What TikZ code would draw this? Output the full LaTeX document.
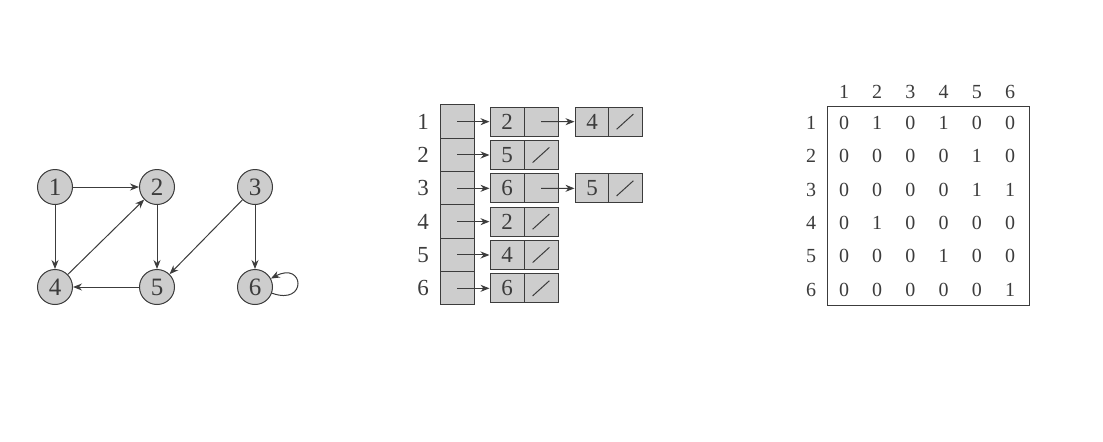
\documentclass[tikz,border=0pt]{standalone}
\usepackage{fontspec}
\setmainfont{Liberation Serif}
\usetikzlibrary{arrows.meta}
\definecolor{GraphNodeFill}{RGB}{205,205,205}
\definecolor{GraphLine}{RGB}{60,60,60}

\begin{document}
\begin{tikzpicture}[x=0.5pt,y=-0.5pt,line width=0.5pt,
  vtx/.style={circle,draw=GraphLine,fill=GraphNodeFill,minimum size=17.5pt,inner sep=0pt,text=GraphLine,font=\fontsize{12.5}{14}\selectfont},
  arr/.style={draw=GraphLine,-{Stealth[length=4.5pt,width=3.5pt]}},
  slot/.style={rectangle,draw=GraphLine,fill=GraphNodeFill,minimum width=17pt,minimum height=16.67pt,inner sep=0pt},
  cell/.style={rectangle,draw=GraphLine,fill=GraphNodeFill,minimum width=17pt,minimum height=14.5pt,inner sep=0pt,text=GraphLine,font=\fontsize{11.5}{13}\selectfont},
  lbl/.style={text=GraphLine,font=\fontsize{11.5}{13}\selectfont},
  ent/.style={text=GraphLine,font=\fontsize{10}{12}\selectfont}]
\useasboundingbox (0,0) rectangle (1103,441);
% directed graph
\node[vtx] (v1) at (55,187) {1};
\node[vtx] (v2) at (157,187) {2};
\node[vtx] (v3) at (255,187) {3};
\node[vtx] (v4) at (55,287) {4};
\node[vtx] (v5) at (157,287) {5};
\node[vtx] (v6) at (255,287) {6};
\foreach \a/\b in {v1/v2,v1/v4,v2/v5,v4/v2,v5/v4,v3/v5,v3/v6}
   \draw[arr] (\a) -- (\b);
\draw[arr] (v6) to[out=-20,in=28,min distance=19pt] (v6);
% adjacency lists
\foreach \i/\k in {1/2,2/5,3/6,4/2,5/4,6/6} {
   \node[slot] (a\i) at (457,88.33+33.33*\i) {};
   \node[lbl] (l\i) at (423,88.33+33.33*\i) {\i};
   \node[cell] (k\i) at (507,88.33+33.33*\i) {\k};
   \node[cell] (p\i) at (541,88.33+33.33*\i) {};
   \draw[arr] (a\i.center) -- (k\i.west);
}
\node[cell] (m1) at (592,121.67) {4};
\node[cell] (n1) at (625,121.67) {};
\node[cell] (m3) at (592,188.33) {5};
\node[cell] (n3) at (625,188.33) {};
\draw[arr] (p1.center) -- (m1.west);
\draw[arr] (p3.center) -- (m3.west);
\foreach \c in {n1,p2,n3,p4,p5,p6}
   \draw[GraphLine] ([shift={(-4.2pt,-3.8pt)}]\c.center) -- ([shift={(4.2pt,3.8pt)}]\c.center);
% adjacency matrix
\node[draw=GraphLine,minimum width=101pt,minimum height=99.5pt,inner sep=0pt] (mat) at (928,205.5) {};
\foreach \j in {1,...,6} {
   \node[ent] (c\j) at (844+33.2*\j-33.2,92) {\j};
   \node[ent] (r\j) at (811,123+33.3*\j-33.3) {\j};
}
\foreach [count=\i] \row in {{0,1,0,1,0,0},{0,0,0,0,1,0},{0,0,0,0,1,1},{0,1,0,0,0,0},{0,0,0,1,0,0},{0,0,0,0,0,1}}
   \foreach [count=\j] \e in \row
      \node[ent] (e\i\j) at (844+33.2*\j-33.2,123+33.3*\i-33.3) {\e};
\end{tikzpicture}
\end{document}
